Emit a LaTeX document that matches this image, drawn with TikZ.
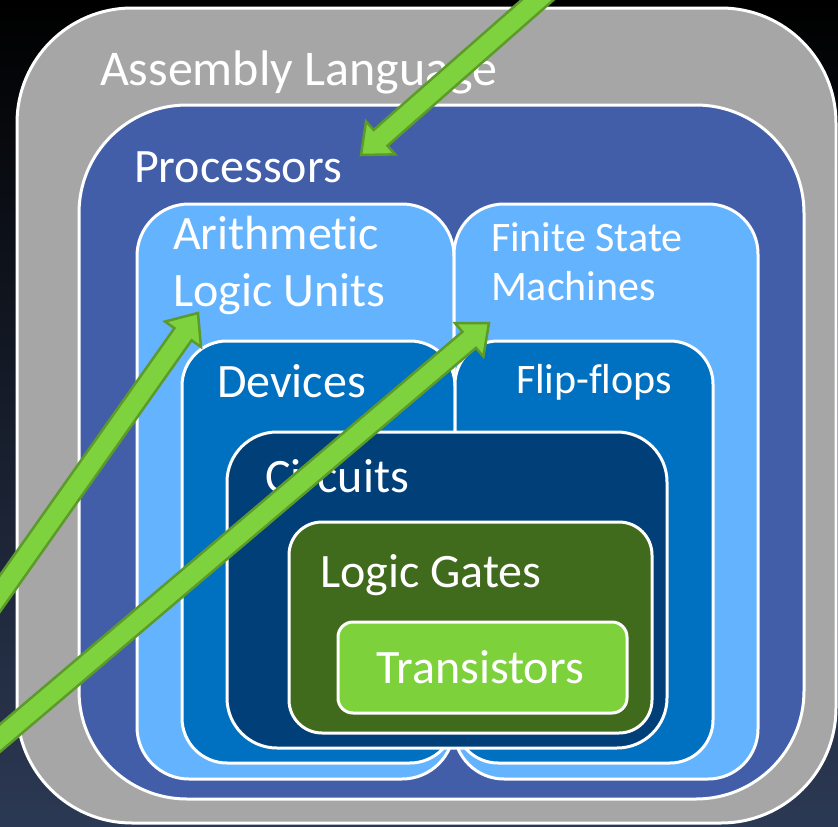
\documentclass[tikz,border=0pt]{standalone}
\usepackage{fontspec}
\setmainfont{Carlito}[Ligatures=CommonOff]
\usetikzlibrary{calc}

\definecolor{asmgray}{HTML}{A6A6A6}
\definecolor{procblue}{HTML}{425EA9}
\definecolor{unitblue}{HTML}{63B3FF}
\definecolor{devblue}{HTML}{0070C0}
\definecolor{circblue}{HTML}{003F78}
\definecolor{gatesgreen}{HTML}{416B1C}
\definecolor{transgreen}{HTML}{7DD13B}
\definecolor{arrowfill}{HTML}{7ED23D}
\definecolor{arrowedge}{HTML}{5C9A2A}
\definecolor{bgbottom}{HTML}{2C3954}

\tikzset{
  layer/.style={draw=white, line width=3pt},
  lbl/.style={text=white, inner sep=0pt, outer sep=0pt, anchor=base west, align=left},
  bigtxt/.style={font=\fontsize{48pt}{57pt}\selectfont},
  midtxt/.style={font=\fontsize{42pt}{49pt}\selectfont},
  arrowbody/.style={fill=arrowfill, draw=arrowedge, line width=2.5pt, line join=miter},
}

% block arrow from #1 (tail) to #2 (tip)
\newcommand\blockarrow[2]{%
  \coordinate (ah) at ($(#2)!26pt!(#1)$);
  \draw[arrowbody] (#2)
    -- ($(ah)!22pt!90:(#2)$)
    -- ($(ah)!10.5pt!90:(#2)$)
    -- ($(#1)!10.5pt!90:(#2)$)
    -- ($(#1)!10.5pt!-90:(#2)$)
    -- ($(ah)!10.5pt!-90:(#2)$)
    -- ($(ah)!22pt!-90:(#2)$)
    -- cycle;
}

\begin{document}
\begin{tikzpicture}[x=1pt, y=-1pt]
  \useasboundingbox (0,0) rectangle (838,827);
  \shade[top color=black, middle color=black, bottom color=bgbottom] (0,0) rectangle (838,827);

  % nested layers
  \draw[layer, fill=asmgray, rounded corners=115pt] (17,8) rectangle (836,823);
  \draw[layer, fill=procblue, rounded corners=108pt] (79,105) rectangle (804,799);
  \draw[layer, fill=unitblue, rounded corners=52pt] (137,204) rectangle (454,779);
  \draw[layer, fill=unitblue, rounded corners=50pt] (454,204) rectangle (758,779);
  \draw[layer, fill=devblue, rounded corners=45pt] (182,341) rectangle (455,763);
  \draw[layer, fill=devblue, rounded corners=43pt] (455,341) rectangle (713,763);
  \draw[layer, fill=circblue, rounded corners=50pt] (227,432) rectangle (667,748);
  \draw[layer, fill=gatesgreen, rounded corners=33pt] (289,522) rectangle (652,733);
  \draw[layer, fill=transgreen, rounded corners=15pt] (338,622) rectangle (627,713);

  % labels (multi-line labels are placed by the baseline of their last line)
  \node[lbl, font=\fontsize{50pt}{60pt}\selectfont] (asm) at (100,85) {Assembly Language};
  \node[lbl, bigtxt] (proc) at (134,182) {Processors};
  \node[lbl, bigtxt] (alu) at (173,306) {Arithmetic\\Logic Units};
  \node[lbl, midtxt] (fsm) at (491,300) {Finite State\\Machines};
  \node[lbl, bigtxt] (dev) at (217,397) {Devices};
  \node[lbl, midtxt] (ff) at (516,393) {Flip-flops};
  \node[lbl, bigtxt] (circ) at (265,492) {Circuits};
  \node[lbl, bigtxt] (gates) at (320,587) {Logic Gates};
  \node[lbl, bigtxt] (trans) at (376,683) {Transistors};

  % pointer arrows
  \coordinate (tipA) at (361,155);
  \coordinate (tailA) at (591,-47);
  \coordinate (tipB) at (198,313);
  \coordinate (tailB) at (-40,650);
  \coordinate (tipC) at (489,323);
  \coordinate (tailC) at (-40,772);
  \begin{scope}
    \clip (0,0) rectangle (838,827);
    \blockarrow{tailA}{tipA}
    \blockarrow{tailB}{tipB}
    \blockarrow{tailC}{tipC}
  \end{scope}
\end{tikzpicture}
\end{document}
